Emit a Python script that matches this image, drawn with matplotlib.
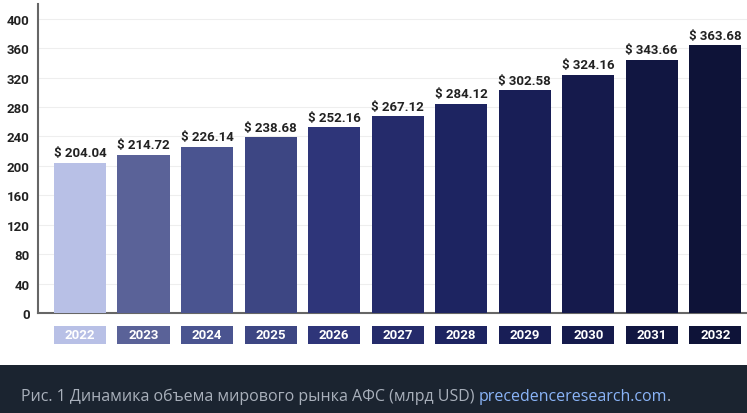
import matplotlib
matplotlib.use("Agg")
import matplotlib.pyplot as plt
from matplotlib.patches import Rectangle

years = ["2022","2023","2024","2025","2026","2027","2028","2029","2030","2031","2032"]
values = [204.04,214.72,226.14,238.68,252.16,267.12,284.12,302.58,324.16,343.66,363.68]
colors = ["#b8c0e6","#5a6298","#4a5490","#3d4683","#2e3579","#252b6b","#1d2461","#181e56","#151a4c","#111641","#0e1338"]
yticks = [0,40,80,120,160,200,240,280,320,360,400]

cond = "Roboto"

W, H = 747, 414
fig = plt.figure(figsize=(W/100, H/100), dpi=100)
fig.patch.set_facecolor("white")
ax = fig.add_axes([38/W, (H-314)/H, (W-38)/W, (314-5)/H])
x = list(range(len(years)))
bw = 0.82
ax.bar(x, values, width=bw, color=colors, zorder=3)
tr = ax.get_xaxis_transform()
for i, v in enumerate(values):
    ax.text(i, v + 5, f"$ {v:.2f}", ha="center", va="bottom", fontsize=9.5,
            fontweight="bold", family=cond, color="#222222")
    ax.add_patch(Rectangle((i - bw/2, -31/309), bw, 18/309, transform=tr, fc=colors[i], ec="none", clip_on=False))
    ax.text(i, -22/309, years[i], transform=tr, ha="center", va="center",
            fontsize=9.5, fontweight="bold", family=cond, color="white")
ax.set_xlim(-0.661, 10.5)
ax.set_ylim(0, 420)
ax.set_yticks(yticks)
ax.set_yticklabels([str(t) for t in yticks], fontsize=9.5, fontweight="bold", family=cond, color="#222222")
ax.set_xticks([])
ax.tick_params(axis="y", length=0, pad=6)
ax.grid(axis="y", color="#eeeeee", lw=0.8, zorder=0)
for s in ["top","right"]:
    ax.spines[s].set_visible(False)
ax.spines["left"].set_color("#666666")
ax.spines["bottom"].set_color("#666666")
ax.spines["left"].set_linewidth(1.5)
ax.spines["bottom"].set_linewidth(1.5)

fs = 11.5
fig.patches.append(Rectangle((0, 0), 1, 48/H, transform=fig.transFigure, fc="#1b2430", ec="none", zorder=0))
t1 = fig.text(21/W, 17/H, "Рис. 1 Динамика объема мирового рынка АФС (млрд USD) ", fontsize=fs,
              family="Open Sans", color="#a9b0bb", va="center")
fig.canvas.draw()
bb = t1.get_window_extent()
t2 = fig.text(bb.x1/W, 17/H, "precedenceresearch.com", fontsize=fs, family="Open Sans", color="#8ab4f8", va="center")
fig.canvas.draw()
bb2 = t2.get_window_extent()
fig.text(bb2.x1/W, 17/H, ".", fontsize=fs, family="Open Sans", color="#a9b0bb", va="center")
fig.savefig("out.png", dpi=100)
